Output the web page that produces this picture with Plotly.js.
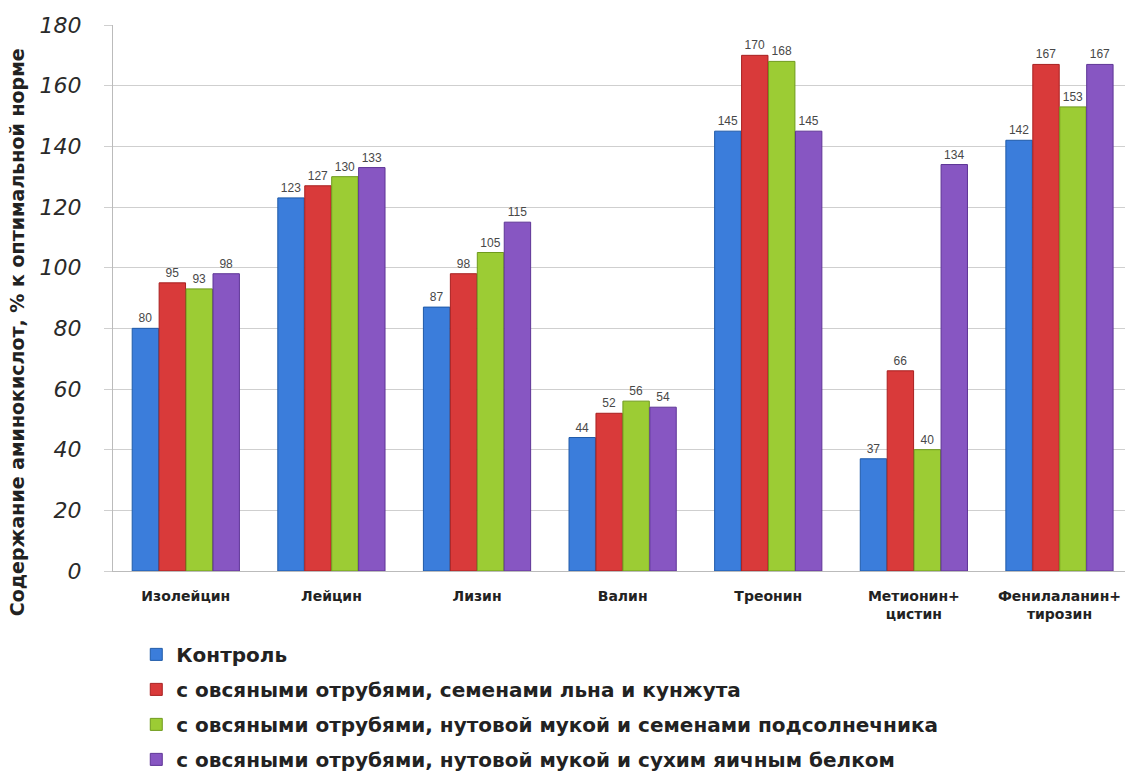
<!DOCTYPE html>
<html><head><meta charset="utf-8">
<script src="https://cdn.plot.ly/plotly-3.0.1.min.js"></script>
<style>html,body{margin:0;padding:0;background:#fff}#chart{width:1125px;height:771px}</style>
</head><body><div id="chart"></div>
<script>
const categories = ["Изолейцин","Лейцин","Лизин","Валин","Треонин","Метионин+<br>цистин","Фенилаланин+<br>тирозин"];
const seriesNames = ["Контроль","с овсяными отрубями, семенами льна и кунжута","с овсяными отрубями, нутовой мукой и семенами подсолнечника","с овсяными отрубями, нутовой мукой и сухим яичным белком"];
const yTitle = "Содержание аминокислот, % к оптимальной норме";
const control = [80,123,87,44,145,37,142];
const flaxSesame = [95,127,98,52,170,66,167];
const chickpeaSunflower = [93,130,105,56,168,40,153];
const chickpeaEgg = [98,133,115,54,145,134,167];
const colors = ["#3b7ddb","#d93a3a","#9ccc34","#8756c2"];
const lines = ["#1f5aa8","#a82020","#6f9a1c","#5e3596"];
const allSeries = [control, flaxSesame, chickpeaSunflower, chickpeaEgg];

const traces = allSeries.map((vals,i)=>({
  type:'bar', x:categories, y:vals, name:'<b>'+seriesNames[i]+'</b>', legendgroup:'g'+i,
  marker:{color:colors[i], line:{color:lines[i], width:1}},
  text:vals.map(String), textposition:'outside', cliponaxis:false,
  textfont:{family:'Liberation Sans, Arial', size:12, color:'#484848'}
}));

const layout = {
  width:1125, height:771,
  margin:{l:113, r:0, t:25, b:200, autoexpand:false},
  paper_bgcolor:'#fff', plot_bgcolor:'#fff',
  barmode:'group', bargap:0.26, bargroupgap:0.02,
  showlegend:true,
  legend:{orientation:'v', x:0.023, xanchor:'left', y:-0.117, yanchor:'top',
    font:{family:'DejaVu Sans, Arial', size:20, color:'#222'}, itemwidth:30, tracegroupgap:6},
  xaxis:{type:'category', range:[-0.5,6.45], showline:true, linecolor:'#bbb', linewidth:1,
    ticks:'', ticklabelstandoff:12, automargin:false,
    tickfont:{family:'DejaVu Sans, Arial', size:14, color:'#222', weight:'bold'}, showgrid:false},
  yaxis:{range:[0,180], dtick:20, showgrid:true, gridcolor:'#cfcfcf', gridwidth:1,
    showline:true, linecolor:'#bbb', ticks:'outside', ticklen:8, tickcolor:'#cfcfcf',
    ticklabelstandoff:18, automargin:false,
    tickfont:{family:'DejaVu Sans, Arial', size:22, color:'#2a2a2a', style:'italic'},
    zeroline:false},
  annotations:[{text:'<b>'+yTitle+'</b>', xref:'paper', yref:'paper', x:-0.094, y:0.437,
    xanchor:'center', yanchor:'middle', textangle:-90, showarrow:false,
    font:{family:'DejaVu Sans, Arial', size:19, color:'#222'}}]
};
Plotly.newPlot('chart', traces, layout, {displayModeBar:false, staticPlot:true});
</script></body></html>
